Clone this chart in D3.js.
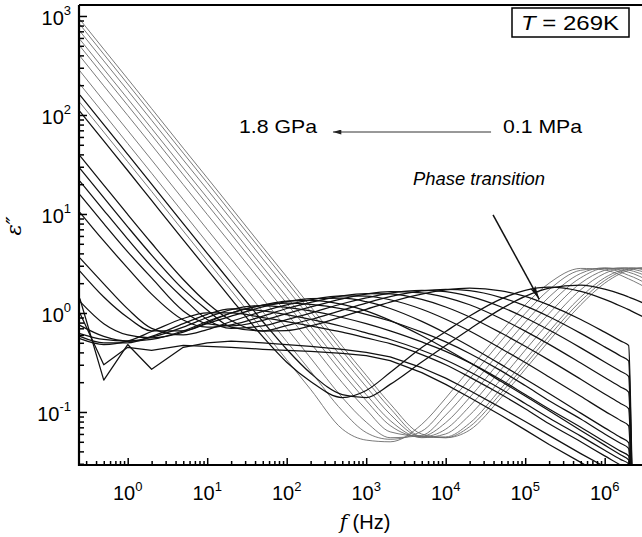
<!DOCTYPE html>
<html>
<head>
<meta charset="utf-8">
<script src="https://cdn.jsdelivr.net/npm/d3@7"></script>
<style>
  html, body { margin: 0; padding: 0; background: #fff; }
  svg { display: block; font-family: "Liberation Sans", Arial, Helvetica, sans-serif; }
</style>
</head>
<body>
<svg id="chart" width="642" height="537"></svg>
<script>
// Measurement frequencies (Hz)
const freqHz = [0.25, 0.5, 1, 2, 5, 10, 20, 50, 100, 200, 500, 1e3, 2e3, 5e3, 1e4, 2e4, 5e4, 1e5, 2e5, 5e5, 1e6, 1.6e6, 2e6, 2.3e6, 3.2e6];

// Dielectric loss, liquid state (lowest pressures)
const liq1 = [923, 462, 232, 116, 46.2, 23.2, 11.6, 4.62, 2.32, 1.16, 0.462, 0.235, 0.121, 0.0598, 0.055, 0.0656, 0.14, 0.27, 0.524, 1.21, 2.0, 2.51, 2.7, 2.78, 2.86];
const liq2 = [822, 411, 206, 103, 41.2, 20.7, 10.3, 4.12, 2.07, 1.03, 0.412, 0.21, 0.109, 0.0564, 0.055, 0.071, 0.156, 0.30, 0.585, 1.32, 2.13, 2.61, 2.77, 2.82, 2.85];
const liq3 = [703, 352, 177, 88.5, 35.2, 17.7, 8.85, 3.52, 1.77, 0.885, 0.352, 0.18, 0.095, 0.056, 0.056, 0.077, 0.174, 0.337, 0.651, 1.45, 2.27, 2.7, 2.82, 2.85, 2.82];
const liq4 = [581, 291, 146, 73.1, 29.1, 14.6, 7.31, 2.91, 1.46, 0.731, 0.291, 0.15, 0.082, 0.055, 0.06, 0.093, 0.216, 0.421, 0.805, 1.72, 2.51, 2.82, 2.86, 2.84, 2.72];
const liq5 = [498, 249, 125, 62.6, 24.9, 12.5, 6.26, 2.49, 1.25, 0.626, 0.249, 0.13, 0.073, 0.056, 0.067, 0.114, 0.27, 0.523, 0.989, 2.0, 2.7, 2.86, 2.82, 2.76, 2.58];
const liq6 = [394, 197, 99.1, 49.7, 19.8, 9.91, 4.97, 1.98, 0.991, 0.497, 0.198, 0.106, 0.063, 0.057, 0.078, 0.14, 0.337, 0.651, 1.21, 2.27, 2.82, 2.82, 2.72, 2.64, 2.4];
const liq7 = [279, 139, 70, 35.1, 14.0, 7.0, 3.51, 1.4, 0.7, 0.351, 0.14, 0.079, 0.055, 0.058, 0.093, 0.173, 0.421, 0.805, 1.45, 2.51, 2.86, 2.72, 2.58, 2.49, 2.21];
const liq8 = [205, 103, 51.5, 25.8, 10.3, 5.15, 2.58, 1.03, 0.515, 0.258, 0.103, 0.062, 0.053, 0.064, 0.113, 0.216, 0.523, 0.989, 1.72, 2.7, 2.82, 2.58, 2.4, 2.3, 2.02];
const liq9 = [134, 67.2, 33.7, 16.9, 6.73, 3.37, 1.69, 0.673, 0.337, 0.169, 0.0673, 0.052, 0.05, 0.075, 0.138, 0.27, 0.651, 1.21, 2.0, 2.82, 2.72, 2.4, 2.21, 2.1, 1.83];

// Spectra across the transition
const trans1 = [159, 80, 40, 20, 8.0, 4.01, 2.01, 0.82, 0.43, 0.246, 0.15, 0.14, 0.19, 0.32, 0.47, 0.686, 1.1, 1.47, 1.78, 1.91, 1.74, 1.55, 1.45, 1.39, 1.24];
const trans2 = [109, 54.7, 27.5, 13.7, 5.47, 2.76, 1.39, 0.576, 0.318, 0.203, 0.14, 0.165, 0.25, 0.448, 0.65, 0.932, 1.39, 1.69, 1.82, 1.65, 1.37, 1.17, 1.08, 1.02, 0.897];

// High-pressure phase, increasing pressure up to 1.8 GPa
const hp01 = [38.9, 19.6, 9.89, 5.06, 2.18, 1.26, 0.841, 0.657, 0.664, 0.74, 0.92, 1.09, 1.29, 1.55, 1.71, 1.78, 1.67, 1.47, 1.2, 0.86, 0.64, 0.52, 0.47, 0.012, 0.01];
const hp02 = [28.9, 14.6, 7.41, 3.84, 1.73, 1.07, 0.72, 0.66, 0.747, 0.859, 1.07, 1.26, 1.46, 1.67, 1.73, 1.68, 1.43, 1.18, 0.917, 0.623, 0.455, 0.366, 0.328, 0.011, 0.009];
const hp03 = [21.5, 10.9, 5.58, 2.94, 1.41, 0.86, 0.7, 0.74, 0.858, 0.998, 1.24, 1.42, 1.59, 1.69, 1.64, 1.47, 1.15, 0.895, 0.672, 0.444, 0.32, 0.256, 0.229, 0.01, 0.008];
const hp04 = [15.7, 8.0, 4.15, 2.26, 1.05, 0.78, 0.74, 0.84, 0.986, 1.15, 1.39, 1.55, 1.64, 1.6, 1.44, 1.21, 0.874, 0.656, 0.482, 0.312, 0.223, 0.178, 0.159, 0.009, 0.007];
const hp05 = [10.4, 5.34, 2.84, 1.55, 0.85, 0.72, 0.76, 0.93, 1.11, 1.28, 1.49, 1.57, 1.56, 1.37, 1.15, 0.912, 0.627, 0.461, 0.334, 0.214, 0.152, 0.121, 0.108, 0.008, 0.006];
const hp06 = [3.6, 1.97, 1.1, 0.7, 0.6, 0.68, 0.82, 1.04, 1.21, 1.36, 1.49, 1.48, 1.36, 1.09, 0.864, 0.657, 0.436, 0.316, 0.226, 0.144, 0.102, 0.0815, 0.0726, 0.007, 0.005];
const hp07 = [2.65, 1.45, 0.9, 0.66, 0.66, 0.78, 0.93, 1.15, 1.3, 1.4, 1.41, 1.3, 1.11, 0.822, 0.625, 0.462, 0.301, 0.215, 0.154, 0.0974, 0.0691, 0.0551, 0.0491, 0.006, 0.005];
const hp08 = [1.31, 0.78, 0.6, 0.56, 0.64, 0.8, 1.0, 1.2, 1.32, 1.34, 1.22, 1.05, 0.842, 0.589, 0.436, 0.316, 0.203, 0.145, 0.103, 0.0651, 0.0463, 0.0367, 0.0328, 0.005, 0.004];
const hp09 = [0.75, 0.58, 0.52, 0.54, 0.66, 0.82, 1.0, 1.2, 1.26, 1.22, 1.1, 0.97, 0.83, 0.64, 0.51, 0.39, 0.26, 0.185, 0.13, 0.085, 0.06, 0.048, 0.043, 0.004, 0.003];
const hp10 = [0.62, 0.54, 0.52, 0.57, 0.72, 0.9, 1.08, 1.19, 1.14, 1.05, 0.9, 0.78, 0.66, 0.51, 0.41, 0.315, 0.21, 0.15, 0.107, 0.07, 0.05, 0.04, 0.036, 0.003, 0.002];
const hp11 = [0.58, 0.5, 0.5, 0.58, 0.78, 0.97, 1.1, 1.05, 0.96, 0.86, 0.73, 0.63, 0.54, 0.42, 0.335, 0.255, 0.17, 0.122, 0.087, 0.057, 0.041, 0.033, 0.03, 0.003, 0.002];
const hp12 = [0.55, 0.48, 0.52, 0.65, 0.88, 1.0, 1.0, 0.9, 0.82, 0.74, 0.64, 0.56, 0.49, 0.38, 0.3, 0.225, 0.15, 0.108, 0.076, 0.05, 0.036, 0.029, 0.026, 0.002, 0.002];
const hp13 = [1.4, 0.21, 0.48, 0.27, 0.45, 0.5, 0.52, 0.5, 0.48, 0.46, 0.43, 0.4, 0.36, 0.28, 0.22, 0.165, 0.11, 0.08, 0.058, 0.038, 0.028, 0.022, 0.02, 0.002, 0.002];
const hp14 = [1.0, 0.3, 0.45, 0.42, 0.47, 0.46, 0.45, 0.43, 0.42, 0.41, 0.39, 0.37, 0.33, 0.25, 0.19, 0.14, 0.092, 0.066, 0.047, 0.031, 0.022, 0.018, 0.016, 0.002, 0.002];

const liquidSeries = [liq1, liq2, liq3, liq4, liq5, liq6, liq7, liq8, liq9];
const solidSeries = [trans1, trans2, hp01, hp02, hp03, hp04, hp05, hp06, hp07, hp08, hp09, hp10, hp11, hp12];
const noisySeries = [hp13, hp14];

// Axis ticks
const xMajorTicks = [1, 10, 100, 1e3, 1e4, 1e5, 1e6];
const xTickExponents = ["0", "1", "2", "3", "4", "5", "6"];
const yMajorTicks = [0.1, 1, 10, 100, 1000];
const yTickExponents = ["-1", "0", "1", "2", "3"];

// Annotation anchors in data units (Hz, loss)
const pressureArrow = { from: [3.72e4, 67.3], to: [382, 67.3] };
const transitionArrow = { from: [3.94e4, 9.77], to: [1.504e5, 1.375] };

const svg = d3.select("#chart");
const plot = { left: 79, right: 650, top: 5, bottom: 465 };

const x = d3.scaleLog().domain([0.244, 3.715e6]).range([plot.left, plot.right]);
const y = d3.scaleLog().domain([0.02914, 1291]).range([plot.bottom, plot.top]);

svg.append("rect").attr("width", 642).attr("height", 537).attr("fill", "#fff");

const defs = svg.append("defs");
defs.append("clipPath").attr("id", "plotClip")
  .append("rect")
  .attr("x", plot.left).attr("y", plot.top)
  .attr("width", plot.right - plot.left).attr("height", plot.bottom - plot.top);

defs.append("marker").attr("id", "headSmall")
  .attr("viewBox", "0 0 10 6").attr("refX", 10).attr("refY", 3)
  .attr("markerWidth", 10).attr("markerHeight", 5).attr("markerUnits", "userSpaceOnUse")
  .attr("orient", "auto")
  .append("path").attr("d", "M0,0 L10,3 L0,6 Z").attr("fill", "#222");

defs.append("marker").attr("id", "headLong")
  .attr("viewBox", "0 0 14 6").attr("refX", 14).attr("refY", 3)
  .attr("markerWidth", 14).attr("markerHeight", 6).attr("markerUnits", "userSpaceOnUse")
  .attr("orient", "auto")
  .append("path").attr("d", "M0,0 L14,3 L0,6 L3,3 Z").attr("fill", "#111");

const smoothLine = d3.line()
  .x((d, i) => x(freqHz[i]))
  .y(d => y(d))
  .curve(d3.curveMonotoneX);
const jaggedLine = d3.line()
  .x((d, i) => x(freqHz[i]))
  .y(d => y(d));

const curves = svg.append("g").attr("clip-path", "url(#plotClip)");

curves.selectAll("path.liquid")
  .data(liquidSeries)
  .join("path")
  .attr("class", "liquid")
  .attr("d", smoothLine)
  .attr("fill", "none")
  .attr("stroke", "#6c6c6c")
  .attr("stroke-width", 0.9)
  .attr("stroke-linejoin", "round");

curves.selectAll("path.solid")
  .data(solidSeries)
  .join("path")
  .attr("class", "solid")
  .attr("d", smoothLine)
  .attr("fill", "none")
  .attr("stroke", "#111")
  .attr("stroke-width", 1.25)
  .attr("stroke-linejoin", "round");

curves.selectAll("path.noisy")
  .data(noisySeries)
  .join("path")
  .attr("class", "noisy")
  .attr("d", jaggedLine)
  .attr("fill", "none")
  .attr("stroke", "#111")
  .attr("stroke-width", 1.25)
  .attr("stroke-linejoin", "round");

// Minor tick positions per decade
function minorTicks(scale) {
  const [lo, hi] = scale.domain();
  const out = [];
  for (let e = Math.floor(Math.log10(lo)); e <= Math.ceil(Math.log10(hi)); e++) {
    for (let k = 2; k <= 9; k++) {
      const v = k * Math.pow(10, e);
      if (v >= lo && v <= hi) out.push(v);
    }
  }
  return out;
}

// Bottom axis (ticks point inward)
const xAxisMajor = d3.axisBottom(x).tickValues(xMajorTicks).tickSizeInner(-7).tickSizeOuter(0).tickFormat("");
const xAxisMinor = d3.axisBottom(x).tickValues(minorTicks(x)).tickSizeInner(-4).tickSizeOuter(0).tickFormat("");
[xAxisMajor, xAxisMinor].forEach(ax => {
  const g = svg.append("g").attr("transform", `translate(0,${plot.bottom})`).call(ax);
  g.select(".domain").remove();
  g.selectAll(".tick line").attr("stroke", "#000").attr("stroke-width", 1.5);
});

// Left axis (ticks point inward)
const yAxisMajor = d3.axisLeft(y).tickValues(yMajorTicks).tickSizeInner(-8).tickSizeOuter(0).tickFormat("");
const yAxisMinor = d3.axisLeft(y).tickValues(minorTicks(y)).tickSizeInner(-5).tickSizeOuter(0).tickFormat("");
[yAxisMajor, yAxisMinor].forEach(ax => {
  const g = svg.append("g").attr("transform", `translate(${plot.left},0)`).call(ax);
  g.select(".domain").remove();
  g.selectAll(".tick line").attr("stroke", "#000").attr("stroke-width", 1.5);
});

// Frame lines
svg.append("path")
  .attr("d", `M${plot.left},${plot.top} L${plot.left},${plot.bottom} L${plot.right},${plot.bottom}`)
  .attr("fill", "none").attr("stroke", "#000").attr("stroke-width", 2.2);
svg.append("line")
  .attr("x1", plot.left).attr("x2", plot.right)
  .attr("y1", plot.top).attr("y2", plot.top)
  .attr("stroke", "#000").attr("stroke-width", 2.2);

// Power-of-ten tick labels
xMajorTicks.forEach((v, i) => {
  const t = svg.append("text")
    .attr("x", x(v)).attr("y", plot.bottom + 35)
    .attr("text-anchor", "middle").attr("font-size", 20).attr("fill", "#000");
  t.append("tspan").text("10");
  t.append("tspan").attr("font-size", 13).attr("dy", -9.5).text(xTickExponents[i]);
});

yMajorTicks.forEach((v, i) => {
  const t = svg.append("text")
    .attr("x", 71).attr("y", y(v) + 9)
    .attr("text-anchor", "end").attr("font-size", 20).attr("fill", "#000");
  t.append("tspan").text("10");
  t.append("tspan").attr("font-size", 13).attr("dy", -9.5).text(yTickExponents[i]);
});

// Axis titles
const xTitle = svg.append("text")
  .attr("x", 365).attr("y", 529)
  .attr("text-anchor", "middle").attr("font-size", 20).attr("fill", "#000");
xTitle.append("tspan").attr("font-style", "italic").attr("font-family", "'DejaVu Serif', serif").text("f");
xTitle.append("tspan").text("  (Hz)");

svg.append("text")
  .attr("transform", "translate(21,226) rotate(-90)")
  .attr("text-anchor", "middle").attr("font-size", 21).attr("font-style", "italic")
  .attr("font-family", "'DejaVu Serif', serif")
  .attr("fill", "#000")
  .text("\u03B5\u2033");

// Temperature box
svg.append("rect")
  .attr("x", 512).attr("y", 8).attr("width", 117).attr("height", 29)
  .attr("fill", "#fff").attr("stroke", "#000").attr("stroke-width", 1.5);
const tLabel = svg.append("text")
  .attr("x", 521).attr("y", 30).attr("font-size", 20).attr("fill", "#000")
  .attr("textLength", 98).attr("lengthAdjust", "spacingAndGlyphs");
tLabel.append("tspan").attr("font-style", "italic").text("T");
tLabel.append("tspan").text(" = 269K");

// Pressure direction annotation
svg.append("text").attr("x", 239).attr("y", 133).attr("font-size", 19).attr("fill", "#000")
  .attr("textLength", 78).attr("lengthAdjust", "spacingAndGlyphs").text("1.8 GPa");
svg.append("text").attr("x", 503).attr("y", 133).attr("font-size", 19).attr("fill", "#000")
  .attr("textLength", 79).attr("lengthAdjust", "spacingAndGlyphs").text("0.1 MPa");
svg.append("line")
  .attr("x1", x(pressureArrow.from[0])).attr("y1", y(pressureArrow.from[1]))
  .attr("x2", x(pressureArrow.to[0])).attr("y2", y(pressureArrow.to[1]))
  .attr("stroke", "#333").attr("stroke-width", 1)
  .attr("marker-end", "url(#headSmall)");

// Phase transition annotation
svg.append("text").attr("x", 413).attr("y", 185).attr("font-size", 18).attr("font-style", "italic")
  .attr("fill", "#000").attr("textLength", 132).attr("lengthAdjust", "spacingAndGlyphs")
  .text("Phase transition");
svg.append("line")
  .attr("x1", x(transitionArrow.from[0])).attr("y1", y(transitionArrow.from[1]))
  .attr("x2", x(transitionArrow.to[0])).attr("y2", y(transitionArrow.to[1]))
  .attr("stroke", "#111").attr("stroke-width", 1.5)
  .attr("marker-end", "url(#headLong)");
</script>
</body>
</html>
